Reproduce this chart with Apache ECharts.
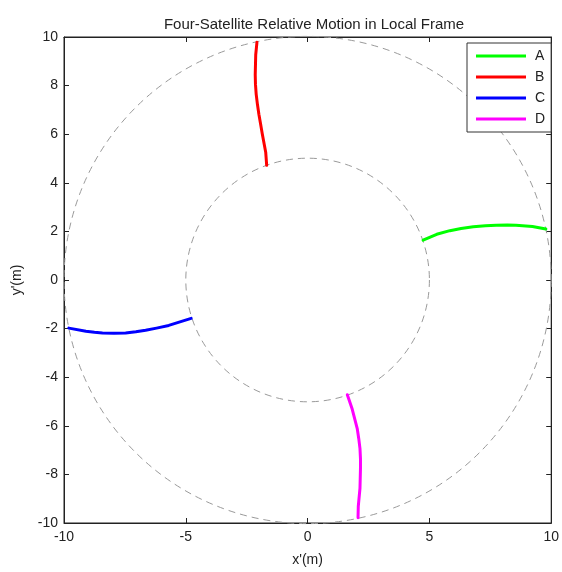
<!DOCTYPE html>
<html lang="en">
    <head>
        <meta charset="UTF-8" />
        <title>Four-Satellite Relative Motion</title>
        <script src="https://cdn.jsdelivr.net/npm/echarts@6/dist/echarts.min.js"></script>
        <style>
            body {
                margin: 0;
                padding: 0;
                background: #fff;
            }

            #chart {
                width: 562px;
                height: 572px;
            }
        </style>
    </head>
    <body>
        <div id="chart"></div>
        <script>
            // points, [x', y'] in metres
            let satA = [[4.74, 1.64], [5.3, 1.88], [5.84, 2.03], [6.3, 2.12], [6.8, 2.19], [7.3, 2.23], [7.74, 2.25], [8.2, 2.26], [8.55, 2.25], [9.23, 2.2], [9.78, 2.1]];
            let satB = [[-1.68, 4.72], [-1.72, 5.26], [-1.86, 6.01], [-1.93, 6.42], [-2.0, 6.82], [-2.06, 7.23], [-2.11, 7.64], [-2.14, 8.05], [-2.15, 8.45], [-2.13, 9.27], [-2.08, 9.78]];
            let satC = [[-9.8, -1.98], [-9.1, -2.11], [-8.75, -2.15], [-8.42, -2.18], [-7.95, -2.19], [-7.47, -2.18], [-7.05, -2.13], [-6.65, -2.07], [-6.2, -1.98], [-5.7, -1.87], [-4.78, -1.58]];
            let satD = [[1.63, -4.72], [1.83, -5.31], [2.04, -6.13], [2.1, -6.53], [2.15, -6.94], [2.17, -7.35], [2.17, -7.76], [2.16, -8.17], [2.15, -8.57], [2.08, -9.32], [2.07, -9.78]];
            let ringRadii = [5, 10];

            let names = ['A', 'B', 'C', 'D'];
            let colors = ['#00ff00', '#ff0000', '#0000ff', '#ff00ff'];
            let sats = [satA, satB, satC, satD];

            let myChart = echarts.init(document.getElementById('chart'));

            let labelStyle = {
                color: '#222',
                fontFamily: 'Liberation Sans, Arial, sans-serif',
                fontSize: 14
            };

            let series = [
                {
                    type: 'custom',
                    name: 'rings',
                    silent: true,
                    data: ringRadii.map((r) => [r]),
                    renderItem: function (params, api) {
                        let c = api.coord([0, 0]);
                        let r = api.size([api.value(0), 0])[0];
                        return {
                            type: 'circle',
                            shape: { cx: c[0], cy: c[1], r: r },
                            style: {
                                fill: null,
                                stroke: '#9a9a9a',
                                lineWidth: 1,
                                lineDash: [7, 5]
                            }
                        };
                    },
                    z: 1
                }
            ];
            for (let i = 0; i < sats.length; i++) {
                series.push({
                    type: 'line',
                    name: names[i],
                    data: sats[i],
                    showSymbol: false,
                    lineStyle: { color: colors[i], width: 3, join: 'round', cap: 'round' },
                    itemStyle: { color: colors[i] },
                    z: 3
                });
            }

            let baseAxis = {
                type: 'value',
                min: -10,
                max: 10,
                splitLine: { show: false },
                axisLine: { show: true, onZero: false, lineStyle: { color: '#222', width: 1 } },
                axisTick: { show: true, inside: true, length: 5, lineStyle: { color: '#222' } }
            };

            let option = {
                animation: false,
                backgroundColor: '#fff',
                title: {
                    text: 'Four-Satellite Relative Motion in Local Frame',
                    left: 309,
                    textAlign: 'center',
                    top: 12,
                    textStyle: {
                        color: '#222',
                        fontFamily: 'Liberation Sans, Arial, sans-serif',
                        fontSize: 15,
                        fontWeight: 'normal'
                    }
                },
                legend: {
                    data: names,
                    orient: 'vertical',
                    left: 467,
                    top: 43,
                    padding: [6, 6, 6, 9],
                    itemGap: 7,
                    itemWidth: 50,
                    itemHeight: 3,
                    icon: 'rect',
                    borderColor: '#333',
                    borderWidth: 1,
                    backgroundColor: '#fff',
                    textStyle: Object.assign({ padding: [0, 0, 0, 4] }, labelStyle)
                },
                grid: {
                    left: 64,
                    top: 37,
                    width: 491,
                    height: 491,
                    show: true,
                    borderColor: '#222',
                    borderWidth: 1,
                    backgroundColor: '#fff'
                },
                xAxis: [
                    Object.assign({}, baseAxis, {
                        interval: 5,
                        position: 'bottom',
                        name: "x'(m)",
                        nameLocation: 'middle',
                        nameGap: 30,
                        nameTextStyle: labelStyle,
                        axisLabel: Object.assign({ margin: 7 }, labelStyle)
                    }),
                    Object.assign({}, baseAxis, {
                        interval: 5,
                        position: 'top',
                        axisLabel: { show: false }
                    })
                ],
                yAxis: [
                    Object.assign({}, baseAxis, {
                        interval: 2,
                        position: 'left',
                        name: "y'(m)",
                        nameLocation: 'middle',
                        nameGap: 40,
                        nameTextStyle: labelStyle,
                        axisLabel: Object.assign({ margin: 6 }, labelStyle)
                    }),
                    Object.assign({}, baseAxis, {
                        interval: 2,
                        position: 'right',
                        axisLabel: { show: false }
                    })
                ],
                series: series
            };
            myChart.setOption(option);
        </script>
    </body>
</html>
